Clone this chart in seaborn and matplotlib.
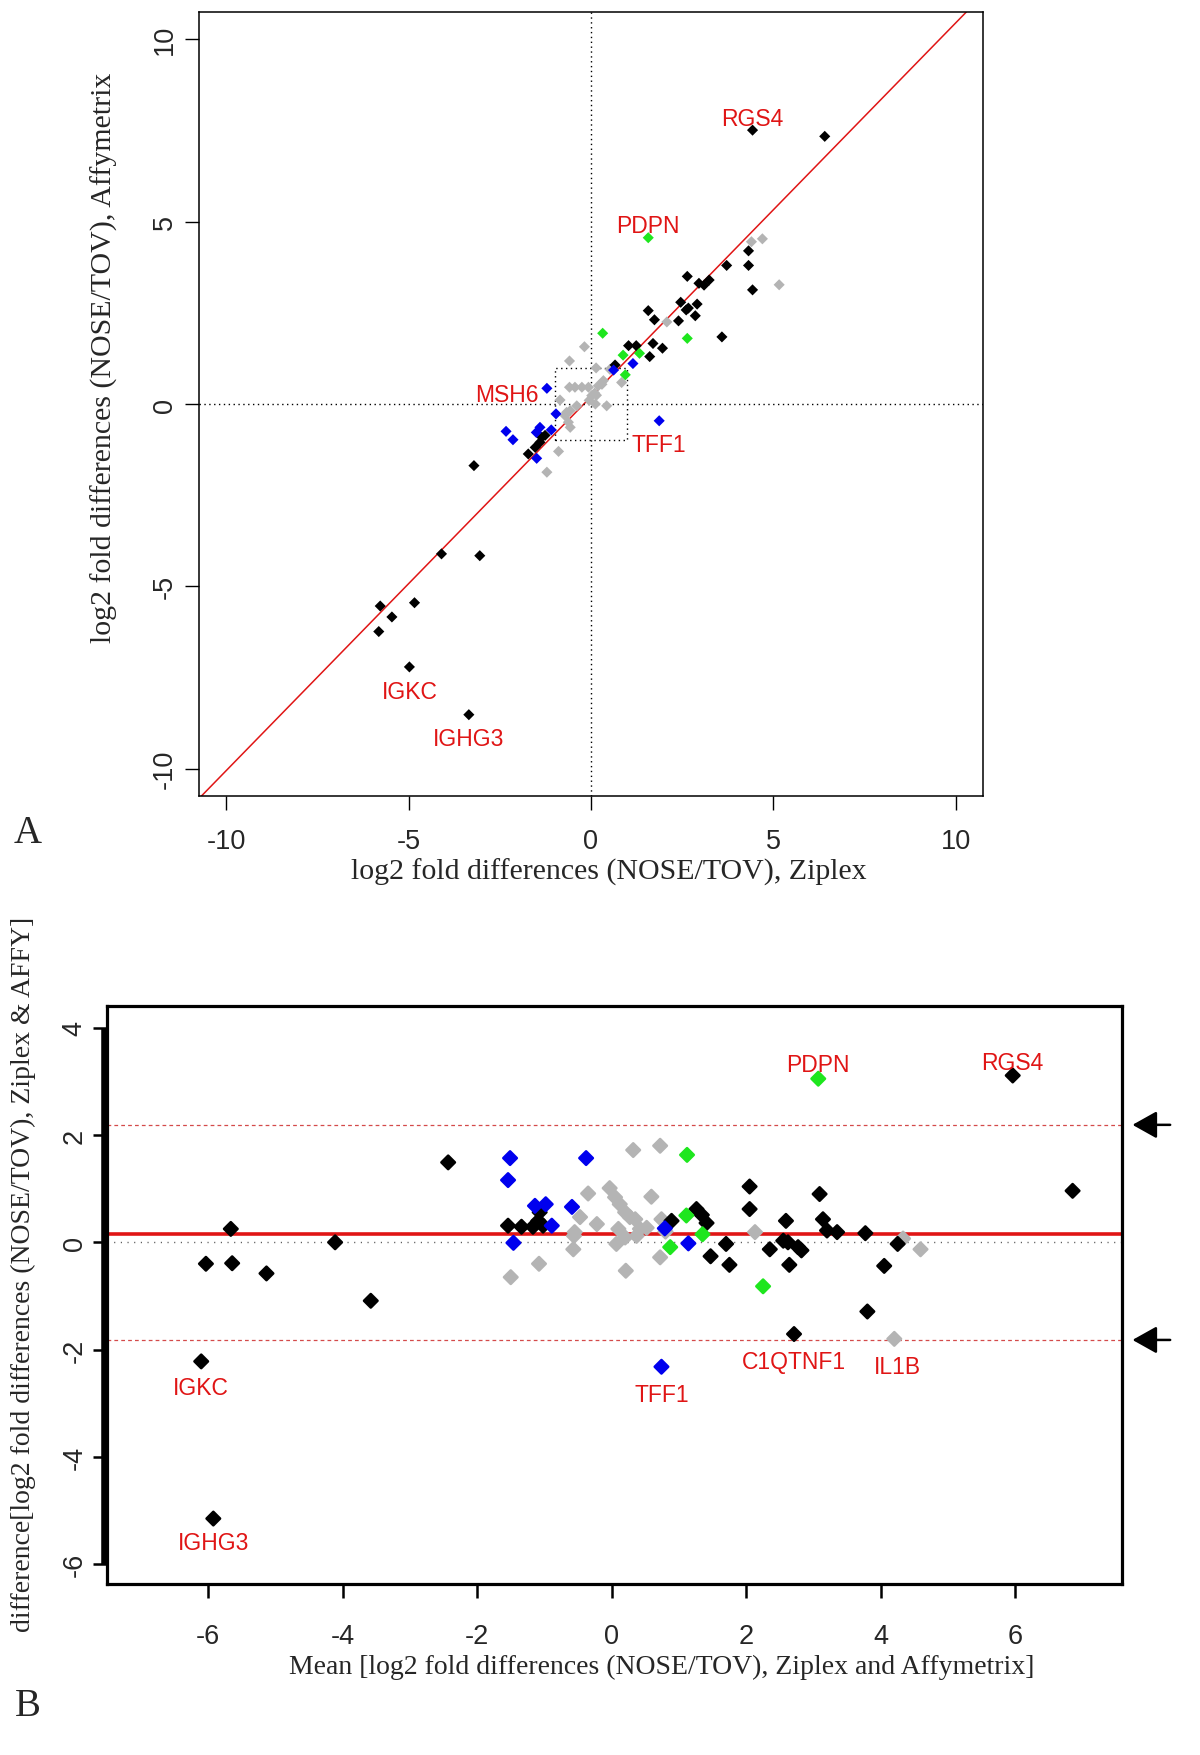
import numpy as np
import pandas as pd
import matplotlib
matplotlib.use("Agg")
import matplotlib.pyplot as plt
import seaborn as sns

sns.set_style("white")
plt.rcParams['font.family'] = ['Liberation Sans', 'DejaVu Sans']

# ---------------- panel A : log2 fold differences, Ziplex (x) vs Affymetrix (y)
a_black_x = [6.41, 4.32, 4.32, 3.72, 4.43, 2.64, 2.96, 3.10, 3.24, 2.46, 2.61, 2.67, 2.91, 2.86, 2.40,
             1.57, 1.74, 3.59, 1.03, 1.24, 1.70, 1.96, 1.61, 0.66, -1.35, -1.26, -1.40, -1.53, -1.72,
             -3.21, -4.10, -3.05, -4.84, -5.78, -5.46, -5.82]
a_black_y = [7.34, 4.20, 3.80, 3.80, 3.13, 3.50, 3.31, 3.26, 3.40, 2.79, 2.58, 2.63, 2.74, 2.42, 2.28,
             2.56, 2.31, 1.84, 1.60, 1.60, 1.66, 1.53, 1.30, 1.07, -0.91, -0.86, -1.05, -1.19, -1.37,
             -1.69, -4.11, -4.16, -5.45, -5.54, -5.84, -6.24]
a_blue_x = [1.15, 0.62, -0.96, -2.33, -2.14, -1.50, -1.40, -1.09, -1.49]
a_blue_y = [1.11, 0.93, -0.27, -0.75, -0.98, -0.78, -0.64, -0.71, -1.49]
a_green_x = [0.32, 2.64, 0.88, 1.33, 0.94]
a_green_y = [1.94, 1.80, 1.34, 1.39, 0.80]
a_gray_x = [4.70, 4.40, 5.16, 2.08, -0.18, -0.59, 0.14, -0.59, -0.44, -0.25, -0.07, 0.34, 0.20, 0.02,
            -0.05, 0.12, 0.43, -0.85, -0.67, -0.57, -0.57, -0.89, -1.21, 0.84, -0.71, 0.30, 0.10,
            0.52, 0.15, -0.39, -0.62]
a_gray_y = [4.53, 4.45, 3.27, 2.25, 1.57, 1.18, 0.99, 0.46, 0.46, 0.46, 0.46, 0.64, 0.50, 0.23,
            0.10, 0.00, -0.05, 0.11, -0.23, -0.18, -0.64, -1.30, -1.87, 0.59, -0.32, 0.54, 0.30,
            0.95, 0.24, -0.05, -0.50]
# named genes in panel A
a_hl_gene = ['RGS4', 'PDPN', 'MSH6', 'TFF1', 'IGKC', 'IGHG3']
a_hl_x = [4.43, 1.57, -1.21, 1.87, -4.98, -3.35]
a_hl_y = [7.51, 4.56, 0.43, -0.46, -7.21, -8.52]
a_hl_grp = ['black', 'green', 'blue', 'blue', 'black', 'black']
a_fit = (0.20, 1.025)  # intercept, slope of the red fitted line
a_ticks = [-10, -5, 0, 5, 10]

# ---------------- panel B : Bland-Altman (mean vs difference)
b_black_m = [-6.03, -5.66, -5.64, -5.13, -4.11, -3.58, -2.43, -1.54, -1.34, -1.17, -1.09, -1.07, -1.02,
             0.89, 1.26, 1.34, 1.41, 1.47, 1.70, 1.75, 2.05, 2.05, 2.35, 2.59, 2.55, 2.62, 2.77, 2.82,
             2.64, 3.09, 3.14, 3.20, 3.35, 3.77, 4.25, 4.05, 3.80, 6.85]
b_black_d = [-0.40, 0.25, -0.39, -0.58, 0.00, -1.09, 1.49, 0.31, 0.29, 0.29, 0.40, 0.56, 0.31,
             0.40, 0.62, 0.51, 0.36, -0.26, -0.03, -0.42, 1.04, 0.62, -0.13, 0.40, 0.03, 0.00, -0.09, -0.15,
             -0.42, 0.90, 0.43, 0.22, 0.19, 0.17, -0.03, -0.44, -1.29, 0.96]
b_blue_m = [-1.51, -1.54, -1.46, -1.14, -0.98, -0.89, -0.59, -0.38, 0.79, 1.14]
b_blue_d = [1.57, 1.16, -0.01, 0.68, 0.71, 0.31, 0.66, 1.57, 0.26, -0.02]
b_green_m = [1.12, 1.11, 0.87, 1.35, 2.25]
b_green_d = [1.63, 0.50, -0.09, 0.15, -0.82]
b_gray_m = [-1.50, -1.08, -0.47, -0.35, -0.22, -0.57, -0.55, -0.56, -0.03, 0.05, 0.12, 0.20, 0.27, 0.35,
            0.10, 0.20, 0.07, 0.21, 0.32, 0.72, 0.59, 0.42, 0.52, 0.37, 0.74, 0.72, 0.80, 2.13, 4.33, 4.59]
b_gray_d = [-0.65, -0.40, 0.47, 0.91, 0.34, -0.13, 0.19, 0.12, 1.01, 0.84, 0.71, 0.56, 0.47, 0.43,
            0.25, 0.09, -0.03, -0.53, 1.72, 1.80, 0.85, 0.25, 0.27, 0.12, 0.43, -0.28, 0.20, 0.19, 0.07, -0.13]
b_hl_gene = ['RGS4', 'PDPN', 'IGKC', 'IGHG3', 'TFF1', 'C1QTNF1', 'IL1B']
b_hl_m = [5.96, 3.07, -6.10, -5.92, 0.74, 2.71, 4.20]
b_hl_d = [3.11, 3.05, -2.22, -5.15, -2.32, -1.71, -1.80]
b_hl_grp = ['black', 'green', 'black', 'black', 'blue', 'black', 'gray']
b_mean_diff = 0.16
b_limits = [2.19, -1.82]
b_xticks = [-6, -4, -2, 0, 2, 4, 6]
b_yticks = [-6, -4, -2, 0, 2, 4]

colors = {'gray': '#b4b4b4', 'black': '#000000', 'blue': '#0000ee', 'green': '#1ee61e'}
red = '#e01515'
serif = ['Liberation Serif', 'DejaVu Serif']
sans = ['Liberation Sans', 'DejaVu Sans']
PX = 0.72  # pixel -> point at dpi 100


def make_df(parts):
    frames = [pd.DataFrame({'x': xs, 'y': ys, 'grp': g}) for g, xs, ys in parts]
    return pd.concat(frames, ignore_index=True)


df_a = make_df([('gray', a_gray_x, a_gray_y), ('black', a_black_x, a_black_y),
                ('blue', a_blue_x, a_blue_y), ('green', a_green_x, a_green_y)])
df_a = pd.concat([df_a, pd.DataFrame({'x': a_hl_x, 'y': a_hl_y, 'grp': a_hl_grp})], ignore_index=True)

df_b = make_df([('gray', b_gray_m, b_gray_d), ('black', b_black_m, b_black_d),
                ('blue', b_blue_m, b_blue_d), ('green', b_green_m, b_green_d)])
df_b = pd.concat([df_b, pd.DataFrame({'x': b_hl_m, 'y': b_hl_d, 'grp': b_hl_grp})], ignore_index=True)

fig = plt.figure(figsize=(12, 17.56), dpi=100)

# ---------------- panel A
ax = fig.add_axes([199 / 1200, 1 - 797 / 1756, 784 / 1200, 784 / 1756])
ax.set_xlim(-10.75, 10.75)
ax.set_ylim(-10.75, 10.75)
ax.axline((0, a_fit[0]), slope=a_fit[1], color=red, lw=1.1, zorder=1)
ax.axhline(0, color='k', lw=1.0, ls=(0, (1, 2.5)), zorder=1)
ax.axvline(0, color='k', lw=1.0, ls=(0, (1, 2.5)), zorder=1)
ax.plot([-1, 1, 1, -1, -1], [-1, -1, 1, 1, -1], color='k', lw=1.0, ls=(0, (1, 2.5)), zorder=1)
sns.scatterplot(data=df_a, x='x', y='y', hue='grp', palette=colors, marker='D', s=32,
                linewidth=0, legend=False, ax=ax, zorder=3)
ax.set_xlabel('')
ax.set_ylabel('')
ax.set_xticks(a_ticks)
ax.set_yticks(a_ticks)
ax.set_xticklabels([str(t) for t in a_ticks])
ax.set_yticklabels([str(t) for t in a_ticks], rotation=90, va='center')
ax.tick_params(axis='both', direction='out', length=10, width=1.0, labelsize=19.5, color='k',
               left=True, bottom=True)
ax.tick_params(axis='x', pad=13)
ax.tick_params(axis='y', pad=5)
for sp in ax.spines.values():
    sp.set_linewidth(1.1)
    sp.set_color('k')

a_off = {'RGS4': (0, 12), 'PDPN': (0, 12), 'MSH6': (-8, -6), 'TFF1': (0, -24),
         'IGKC': (0, -25), 'IGHG3': (0, -24)}
for g, x, y in zip(a_hl_gene, a_hl_x, a_hl_y):
    dx, dy = a_off[g]
    ax.annotate(g, (x, y), xytext=(dx * PX, dy * PX), textcoords='offset points',
                ha='right' if dx < 0 else 'center', va='center', color=red,
                fontsize=16.5, family=sans)

# ---------------- panel B
bx = fig.add_axes([107 / 1200, 1 - 1585 / 1756, 1015.4 / 1200, 577.7 / 1756])
bx.set_xlim(-7.50, 7.59)
bx.set_ylim(-6.37, 4.40)
bx.axhline(0, color='#555555', lw=1.0, ls=(0, (0.8, 4)), zorder=1)
for lim in b_limits:
    bx.axhline(lim, color='#d44a4a', lw=0.9, ls=(0, (3, 2.5)), zorder=1)
bx.axhline(b_mean_diff, color=red, lw=2.6, zorder=2)
sns.scatterplot(data=df_b, x='x', y='y', hue='grp', palette=colors, marker='D', s=48,
                edgecolor='face', linewidth=1.8, legend=False, ax=bx, zorder=3)
bx.set_xlabel('')
bx.set_ylabel('')
bx.set_xticks(b_xticks)
bx.set_yticks(b_yticks)
bx.set_xticklabels([str(t) for t in b_xticks])
bx.set_yticklabels([str(t) for t in b_yticks], rotation=90, va='center')
bx.tick_params(axis='both', direction='out', length=10, width=1.8, labelsize=19.5, color='k',
               left=True, bottom=True)
bx.tick_params(axis='x', pad=18)
bx.tick_params(axis='y', pad=4)
for sp in bx.spines.values():
    sp.set_linewidth(2.3)
    sp.set_color('k')
# heavy y axis line, drawn from first to last tick
bx.plot([-0.0034, -0.0034], [b_yticks[0], b_yticks[-1]], color='k', lw=4.0,
        transform=bx.get_yaxis_transform(), clip_on=False, solid_capstyle='butt', zorder=4)

# arrows marking the limits of agreement
for lim in b_limits:
    bx.annotate('', xy=(7.74, lim), xytext=(8.30, lim),
                arrowprops=dict(arrowstyle='-|>,head_length=0.75,head_width=0.42',
                                mutation_scale=20, color='k', lw=1.8, shrinkA=0, shrinkB=0),
                annotation_clip=False)

b_off = {'RGS4': (0, 13), 'PDPN': (0, 14), 'IGKC': (0, -26), 'IGHG3': (0, -24),
         'TFF1': (0, -28), 'C1QTNF1': (0, -27), 'IL1B': (3, -28)}
for g, x, y in zip(b_hl_gene, b_hl_m, b_hl_d):
    dx, dy = b_off[g]
    bx.annotate(g, (x, y), xytext=(dx * PX, dy * PX), textcoords='offset points',
                ha='center', va='center', color=red, fontsize=16.5, family=sans)

# ---------------- axis titles and panel letters
fig.text(609 / 1200, 1 - 872 / 1756, 'log2 fold differences (NOSE/TOV), Ziplex',
         ha='center', va='center', fontsize=21.5, family=serif)
fig.text(104 / 1200, 1 - 358 / 1756, 'log2 fold differences (NOSE/TOV), Affymetrix',
         ha='center', va='center', rotation=90, fontsize=21.5, family=serif)
fig.text(662 / 1200, 1 - 1667 / 1756, 'Mean [log2 fold differences (NOSE/TOV), Ziplex and Affymetrix]',
         ha='center', va='center', fontsize=20, family=serif)
fig.text(23 / 1200, 1 - 1274 / 1756, 'difference[log2 fold differences (NOSE/TOV), Ziplex & AFFY]',
         ha='center', va='center', rotation=90, fontsize=20, family=serif)
fig.text(28 / 1200, 1 - 834 / 1756, 'A', ha='center', va='center', fontsize=28, family=serif)
fig.text(28 / 1200, 1 - 1707 / 1756, 'B', ha='center', va='center', fontsize=28, family=serif)

fig.savefig('out.png', dpi=100)
